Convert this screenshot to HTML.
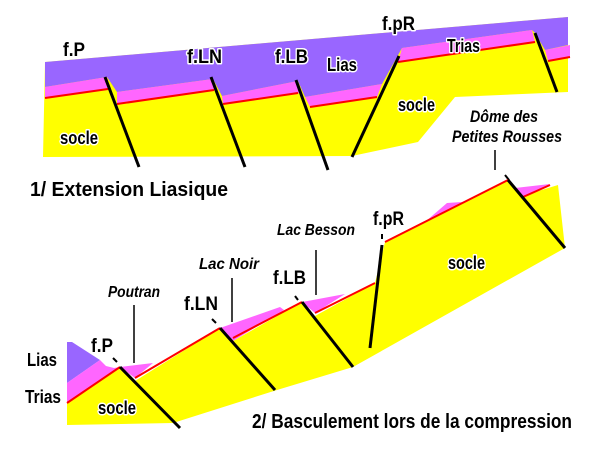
<!DOCTYPE html>
<html><head><meta charset="utf-8"><style>
html,body{margin:0;padding:0;background:#fff;}
svg{display:block;}
text{font-family:"Liberation Sans",sans-serif;font-weight:bold;paint-order:stroke;stroke:#fff;stroke-width:3px;stroke-linejoin:round;fill:#000;}
.i{font-style:italic;}
</style></head><body>
<svg width="600" height="454" viewBox="0 0 600 454" xmlns="http://www.w3.org/2000/svg">
<!-- TOP DIAGRAM -->
<polygon points="43,157 352,156 418,142 455,97 568,92 568,17 45,62" fill="#ffff00"/>
<polygon points="45,62 568,17 568,45 545,50 535,33 532,30 402,48 382,84 305,97 298,81 222,96 213,79 117,92 107,77 45,87" fill="#9966ff"/>
<!-- pink -->
<polygon points="45,87 107,77 110,89 45,98" fill="#ff66ff"/>
<polygon points="117,92 213,79 215,90 117,104" fill="#ff66ff"/>
<polygon points="222,96 298,81 300,93 223,104" fill="#ff66ff"/>
<polygon points="305,97 382,84 377,97 310,107" fill="#ff66ff"/>
<polygon points="402,48 532,30 535,42 398,62" fill="#ff66ff"/>
<polygon points="545,50 570,45 570,57 548,61" fill="#ff66ff"/>
<g stroke="#ff0000" stroke-width="2">
<line x1="45" y1="98" x2="108" y2="89"/>
<line x1="117" y1="104" x2="214" y2="90"/>
<line x1="223" y1="104" x2="298" y2="93"/>
<line x1="310" y1="107" x2="377" y2="97"/>
<line x1="398" y1="62" x2="535" y2="42"/>
<line x1="548" y1="61" x2="570" y2="57"/>
</g>
<g stroke="#000" stroke-width="3">
<line x1="105" y1="77" x2="139" y2="167"/>
<line x1="211" y1="77" x2="245" y2="167"/>
<line x1="296" y1="80" x2="328" y2="170"/>
<line x1="399" y1="56" x2="352" y2="157"/>
<line x1="535" y1="33" x2="557" y2="92"/>
</g>
<line x1="495" y1="150" x2="495" y2="170" stroke="#000" stroke-width="1.5"/>
<line x1="505" y1="175" x2="509" y2="180" stroke="#000" stroke-width="2"/>
<text x="63" y="56" font-size="19" textLength="22" lengthAdjust="spacingAndGlyphs">f.P</text>
<text x="187" y="63" font-size="19" textLength="35" lengthAdjust="spacingAndGlyphs">f.LN</text>
<text x="275" y="63" font-size="19" textLength="33" lengthAdjust="spacingAndGlyphs">f.LB</text>
<text x="327" y="71" font-size="18" textLength="30" lengthAdjust="spacingAndGlyphs">Lias</text>
<text x="382" y="30" font-size="19" textLength="33" lengthAdjust="spacingAndGlyphs">f.pR</text>
<text x="447" y="52" font-size="18" textLength="33" lengthAdjust="spacingAndGlyphs">Trias</text>
<text x="60" y="144" font-size="18" textLength="38" lengthAdjust="spacingAndGlyphs">socle</text>
<text x="398" y="111" font-size="18" textLength="37" lengthAdjust="spacingAndGlyphs">socle</text>
<text class="i" x="470" y="122" font-size="17" textLength="68" lengthAdjust="spacingAndGlyphs">Dôme des</text>
<text class="i" x="452" y="142" font-size="17" textLength="110" lengthAdjust="spacingAndGlyphs">Petites Rousses</text>
<text x="30" y="196" font-size="20" textLength="198" lengthAdjust="spacingAndGlyphs">1/ Extension Liasique</text>

<!-- BOTTOM DIAGRAM -->
<polygon points="67,425 173,423 277,390 353,367 565,248 558,185 522,196 508,180 385,242 375,283 315,316 302,302 233,341 220,328 135,381 120,367 67,403" fill="#ffff00"/>
<polygon points="67,342 72,342 100,360 67,383" fill="#9966ff"/>
<polygon points="67,383 100,360 106,366 114,368 120,367 67,403" fill="#ff66ff"/>
<polygon points="120,367 153,363 135,378" fill="#ff66ff"/>
<polygon points="220,328 280,307 284,310 233,341" fill="#ff66ff"/>
<polygon points="302,302 313,300 345,294 315,313" fill="#ff66ff"/>
<polygon points="425,222 447,203 462,202 445,212" fill="#ff66ff"/>
<polygon points="515,188 550,184 522,197" fill="#ff66ff"/>
<g stroke="#ff0000" stroke-width="2">
<line x1="67" y1="403" x2="120" y2="367"/>
<line x1="135" y1="378" x2="220" y2="328"/>
<line x1="233" y1="338" x2="302" y2="302"/>
<line x1="315" y1="313" x2="375" y2="283"/>
<line x1="385" y1="242" x2="508" y2="180"/>
<line x1="523" y1="197" x2="550" y2="185"/>
</g>
<g stroke="#000" stroke-width="3">
<line x1="120" y1="367" x2="180" y2="428"/>
<line x1="220" y1="328" x2="275" y2="390"/>
<line x1="302" y1="302" x2="353" y2="367"/>
<line x1="382" y1="245" x2="370" y2="348"/>
<line x1="508" y1="180" x2="565" y2="248"/>
</g>
<g stroke="#000" stroke-width="2">
<line x1="113" y1="358" x2="117" y2="362"/>
<line x1="212" y1="319" x2="216" y2="323"/>
<line x1="295" y1="296" x2="298" y2="300"/>
<line x1="382" y1="234" x2="382" y2="239"/>
</g>
<g stroke="#000" stroke-width="1.5">
<line x1="134" y1="305" x2="134" y2="363"/>
<line x1="232" y1="278" x2="232" y2="322"/>
<line x1="316" y1="250" x2="316" y2="295"/>
</g>
<text x="27" y="366" font-size="18" textLength="30" lengthAdjust="spacingAndGlyphs">Lias</text>
<text x="25" y="403" font-size="18" textLength="36" lengthAdjust="spacingAndGlyphs">Trias</text>
<text x="98" y="414" font-size="18" textLength="38" lengthAdjust="spacingAndGlyphs">socle</text>
<text x="91" y="352" font-size="19" textLength="22" lengthAdjust="spacingAndGlyphs">f.P</text>
<text class="i" x="108" y="297" font-size="16" textLength="52" lengthAdjust="spacingAndGlyphs">Poutran</text>
<text x="184" y="310" font-size="19" textLength="34" lengthAdjust="spacingAndGlyphs">f.LN</text>
<text class="i" x="199" y="269" font-size="16" textLength="60" lengthAdjust="spacingAndGlyphs">Lac Noir</text>
<text x="273" y="284" font-size="19" textLength="33" lengthAdjust="spacingAndGlyphs">f.LB</text>
<text class="i" x="277" y="235" font-size="16" textLength="78" lengthAdjust="spacingAndGlyphs">Lac Besson</text>
<text x="373" y="225" font-size="19" textLength="31" lengthAdjust="spacingAndGlyphs">f.pR</text>
<text x="448" y="269" font-size="18" textLength="37" lengthAdjust="spacingAndGlyphs">socle</text>
<text x="252" y="428" font-size="20" textLength="320" lengthAdjust="spacingAndGlyphs">2/ Basculement lors de la compression</text>
</svg>
</body></html>
